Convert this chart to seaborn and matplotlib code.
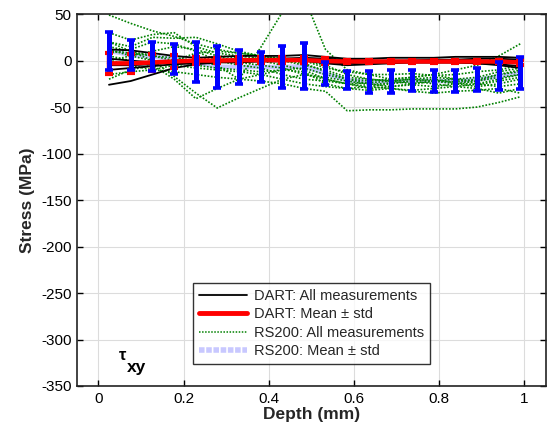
import numpy as np
import pandas as pd
import matplotlib
matplotlib.use("Agg")
import matplotlib.pyplot as plt
import seaborn as sns
from matplotlib.lines import Line2D

depth = [0.025, 0.076, 0.127, 0.178, 0.229, 0.279, 0.330, 0.381, 0.432, 0.483,
         0.533, 0.584, 0.635, 0.686, 0.737, 0.787, 0.838, 0.889, 0.940, 0.990]

dart_all = [
    [-26, -22, -15, -8, -4, -2, 0, 1, 2, 2, 1, 0, -1, -1, 0, 0, 1, 2, 2, 1],
    [12, 11, 8, 5, 3, 4, 5, 5, 5, 6, 4, 2, 2, 3, 3, 3, 4, 4, 4, 3],
    [-10, -8, -6, -4, -3, -2, -2, -1, -1, 0, -2, -3, -2, -2, -2, -2, -2, -3, -4, -6],
    [2, 0, -2, -3, -2, 0, 1, 2, 2, 3, 2, 1, 0, 0, 0, 1, 1, 0, -1, -2],
    [-5, -5, -4, -2, -1, 0, 0, 0, 0, 0, -3, -5, -4, -3, -2, -2, -2, -3, -5, -8],
]
dart_mean = [-3, -3, -2, -1, 0, 0, 0.5, 0.5, 0.5, 0.5, -0.5, -1, -1, -1, -1, -1, -1, -1, -1, -2]
dart_std = [11, 10, 9.5, 7, 4, 3, 3, 3, 3, 3, 3, 2, 2, 2, 2, 2, 2, 2, 2, 3]

rs_all = [
    [49, 40, 32, 26, 18, 12, 8, 5, 2, 0, -5, -15, -20, -22, -20, -18, -20, -18, -12, -8],
    [30, 22, 28, 30, 15, 8, 5, 2, 0, -3, -12, -20, -25, -28, -26, -28, -25, -22, -18, -15],
    [20, 10, 0, -17, -35, -51, -40, -30, -20, -15, -20, -25, -30, -28, -25, -22, -25, -28, -25, -20],
    [5, 0, -5, -20, -41, -30, -20, -15, -10, -12, -25, -30, -28, -30, -32, -30, -28, -30, -35, -30],
    [10, 8, 5, 3, 0, -5, -20, 14, 52, 68, 12, -10, -15, -20, -18, -15, -20, -22, -15, -10],
    [0, -5, -10, -12, -15, -18, -20, -22, -25, -30, -33, -54, -53, -53, -52, -52, -52, -50, -45, -39],
    [15, 10, 5, 0, -5, -8, -10, -12, -10, -8, -15, -20, -22, -20, -18, -15, -10, -5, 5, 18],
    [-20, -10, -5, 0, 8, 10, 8, 5, 0, -5, -10, -18, -20, -22, -25, -22, -20, -25, -28, -25],
    [20, 15, 25, 24, 25, 18, 10, 5, 2, 0, -8, -12, -15, -15, -14, -16, -15, -12, -10, -5],
    [12, 5, 0, -5, -8, -10, -12, -15, -20, -25, -28, -30, -32, -30, -33, -35, -33, -32, -30, -35],
    [-15, -12, -10, -5, 0, 5, 3, 0, -5, -10, -20, -25, -28, -25, -22, -25, -28, -25, -20, -15],
    [8, 12, 20, 18, 10, 0, -5, -8, -15, -20, -22, -25, -24, -22, -20, -22, -23, -20, -15, -12],
    [0, 5, 10, 15, 12, 5, -2, -5, -8, -15, -18, -22, -26, -24, -22, -20, -24, -26, -22, -18],
]
rs_mean = [10.5, 6, 4, 1.8, -2, -6.6, -7, -7, -7, -6, -14, -21, -23, -22.5, -21.5, -22, -22, -20.5, -17, -13.5]
rs_std = [20.5, 16, 15.5, 16.5, 21.5, 22.4, 18, 16, 23, 25, 12.6, 10, 12, 12.5, 11.5, 12, 12, 12.5, 15, 17.5]

xticks = [0, 0.2, 0.4, 0.6, 0.8, 1]
yticks = [50, 0, -50, -100, -150, -200, -250, -300, -350]

sns.set_theme(style="whitegrid")
plt.rcParams['font.family'] = ['Liberation Sans', 'DejaVu Sans']

fig = plt.figure(figsize=(5.47, 4.36), dpi=100)
ax = fig.add_axes([0.1408, 0.1147, 0.857, 0.853])
ax.set_facecolor('white')

def long_df(rows):
    recs = []
    for i, r in enumerate(rows):
        for d, v in zip(depth, r):
            recs.append({'depth': d, 'stress': v, 'id': i})
    return pd.DataFrame(recs)

# RS200 mean line (light), under the measurements
sns.lineplot(x=depth, y=rs_mean, color='#c8c8ff', lw=3.2, ax=ax, zorder=1.5, legend=False)
sns.lineplot(data=long_df(rs_all), x='depth', y='stress', units='id', estimator=None,
             color='#008000', lw=1.2, ls=(0, (1, 1)), ax=ax, zorder=2, legend=False)
sns.lineplot(data=long_df(dart_all), x='depth', y='stress', units='id', estimator=None,
             color='black', lw=1.3, ax=ax, zorder=3, legend=False)

ax.errorbar(depth, dart_mean, yerr=dart_std, color='red', lw=3.2, ecolor='red',
            elinewidth=3.2, capsize=3, capthick=3, zorder=4)
ax.errorbar(depth, rs_mean, yerr=rs_std, fmt='none', ecolor='blue',
            elinewidth=3.6, capsize=3.2, capthick=2.6, zorder=5)

handles = [Line2D([], [], color='black', lw=1.3),
           Line2D([], [], color='red', lw=3.5),
           Line2D([], [], color='#008000', lw=1.1, ls=(0, (1, 1))),
           Line2D([], [], color='#c8c8ff', lw=4, ls=(0, (1, 0.3)))]
labels = ['DART: All measurements', 'DART: Mean \u00b1 std',
          'RS200: All measurements', 'RS200: Mean \u00b1 std']
leg = ax.legend(handles, labels, loc='lower center', bbox_to_anchor=(0.5, 0.04),
                fontsize=10.5, frameon=True, fancybox=False, handlelength=3.3,
                borderpad=0.4, labelspacing=0.3, handletextpad=0.5)
leg.get_frame().set_edgecolor('black')
leg.get_frame().set_linewidth(1.0)
leg.set_zorder(10)

ax.text(0.049, -322, '\u03c4', fontsize=12, fontweight='bold', color='black', zorder=6)
ax.text(0.066, -335, 'xy', fontsize=12.5, fontweight='bold', color='black', zorder=6)

ax.set_xlim(-0.05, 1.05)
ax.set_ylim(-350, 50)
ax.set_xticks(xticks)
ax.set_xticklabels(['0', '0.2', '0.4', '0.6', '0.8', '1'])
ax.set_yticks(yticks)
ax.set_yticklabels([str(v) for v in yticks])
ax.tick_params(axis='both', direction='in', length=4, width=1, colors='black',
               labelsize=11, top=True, right=True, bottom=True, left=True, pad=4)
ax.grid(True, color='#dcdcdc', lw=0.8)
for s in ax.spines.values():
    s.set_color('#222222')
    s.set_linewidth(1.2)
ax.set_xlabel('Depth (mm)', fontsize=12.5, fontweight='bold', labelpad=1)
ax.set_ylabel('Stress (MPa)', fontsize=12.5, fontweight='bold', labelpad=4)

fig.savefig('out.png', dpi=100)
